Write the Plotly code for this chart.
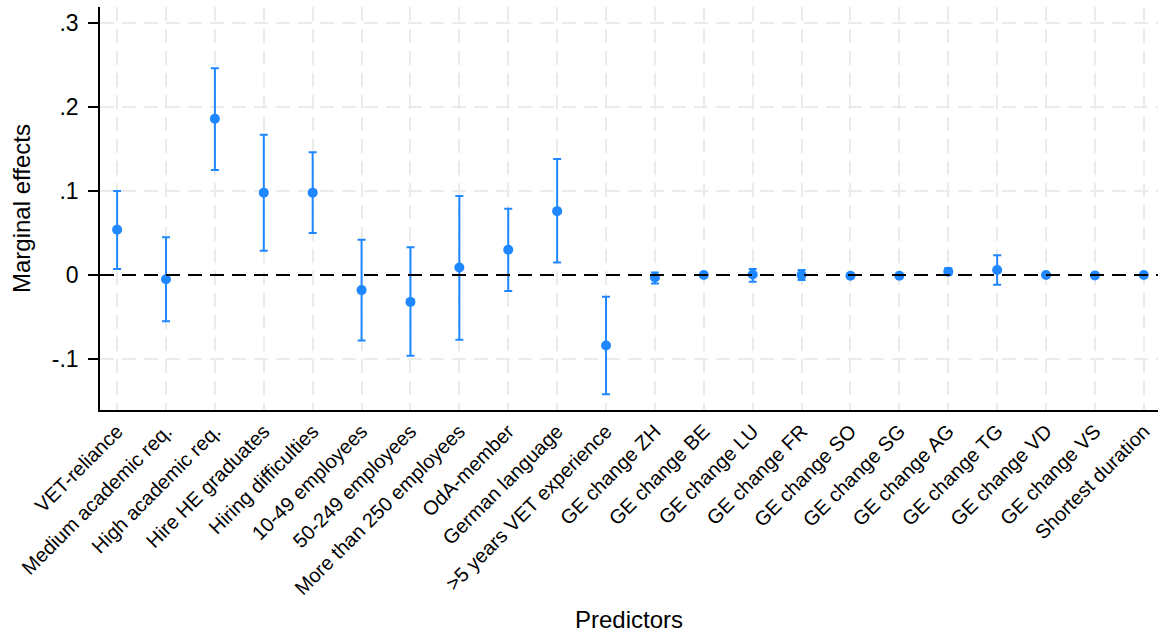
import plotly.graph_objects as go

categories = ["VET-reliance", "Medium academic req.", "High academic req.", "Hire HE graduates",
              "Hiring difficulties", "10-49 employees", "50-249 employees", "More than 250 employees",
              "OdA-member", "German language", ">5 years VET experience", "GE change ZH",
              "GE change BE", "GE change LU", "GE change FR", "GE change SO", "GE change SG",
              "GE change AG", "GE change TG", "GE change VD", "GE change VS", "Shortest duration"]
estimates = [0.054, -0.005, 0.186, 0.098, 0.098, -0.018, -0.032, 0.009, 0.030, 0.076, -0.084,
             -0.003, 0.000, 0.0005, 0.000, -0.001, -0.001, 0.004, 0.006, 0.000, -0.0005, 0.000]
ci_upper = [0.100, 0.045, 0.246, 0.167, 0.146, 0.042, 0.033, 0.094, 0.079, 0.138, -0.026,
            0.003, 0.001, 0.007, 0.006, 0.000, 0.000, 0.008, 0.0235, 0.0005, 0.000, 0.0005]
ci_lower = [0.007, -0.055, 0.125, 0.029, 0.050, -0.078, -0.096, -0.077, -0.019, 0.015, -0.142,
            -0.010, -0.001, -0.008, -0.006, -0.002, -0.002, 0.000, -0.0115, -0.0005, -0.001, -0.0005]
y_tickvals = [-0.1, 0, 0.1, 0.2, 0.3]
y_ticktext = ["-.1", "0", ".1", ".2", ".3"]

xs = list(range(len(categories)))
err_plus = [u - e for u, e in zip(ci_upper, estimates)]
err_minus = [e - l for e, l in zip(estimates, ci_lower)]

BLUE = "#1f87ff"
FONT = "Liberation Sans, Arial, Helvetica, sans-serif"

fig = go.Figure()
fig.add_trace(go.Scatter(
    x=xs, y=estimates, mode="markers",
    marker=dict(color=BLUE, size=10),
    error_y=dict(type="data", symmetric=False, array=err_plus, arrayminus=err_minus,
                 color=BLUE, thickness=2, width=4),
    showlegend=False,
))

fig.add_shape(type="line", xref="paper", yref="y", x0=0, x1=1, y0=0, y1=0,
              line=dict(color="black", width=2, dash="14px,8px"), layer="above")

fig.update_layout(
    width=1160, height=640,
    margin=dict(l=100, r=2, t=7, b=230),
    paper_bgcolor="white", plot_bgcolor="white",
    font=dict(family=FONT, color="black"),
    xaxis=dict(
        range=[-0.35, 21.29], automargin=False,
        tickmode="array", tickvals=xs, ticktext=categories,
        tickangle=-45, tickfont=dict(size=20),
        showgrid=True, gridcolor="#ebebeb", gridwidth=1.5, griddash="14px,8px",
        showline=True, linecolor="black", linewidth=1.5,
        ticks="", zeroline=False,
        title=dict(text="Predictors", font=dict(size=24), standoff=13),
    ),
    yaxis=dict(
        range=[-0.1607, 0.319], automargin=False,
        tickmode="array", tickvals=y_tickvals, ticktext=y_ticktext,
        tickfont=dict(size=23), ticklabelstandoff=5,
        showgrid=True, gridcolor="#ebebeb", gridwidth=1.5, griddash="14px,8px",
        showline=True, linecolor="black", linewidth=1.5,
        ticks="outside", ticklen=10, tickwidth=1.5, tickcolor="black",
        zeroline=False,
        title=dict(text="Marginal effects", font=dict(size=24), standoff=14),
    ),
)

fig.write_html("out.html", config={"displayModeBar": False},
               post_script="document.body.style.margin='0';document.body.style.overflow='hidden';")
